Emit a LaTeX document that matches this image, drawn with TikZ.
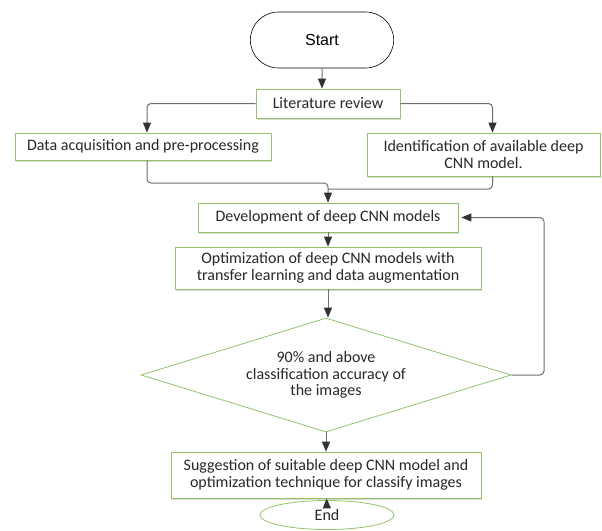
\documentclass[tikz,border=0pt]{standalone}
\usepackage{fontspec}
\setmainfont{Carlito}
\newfontfamily\startfont{Liberation Sans}
\usepackage{tikz}
\usetikzlibrary{arrows.meta, shapes.geometric, shapes.misc, shadows}

\definecolor{boxgreen}{RGB}{146,196,106}
\definecolor{linegray}{RGB}{110,110,110}
\definecolor{tipgray}{RGB}{50,50,50}
\definecolor{txtgray}{RGB}{40,40,40}

\begin{document}
\begin{tikzpicture}[x=1pt, y=-1pt,
  box/.style={rectangle, draw=boxgreen, line width=0.8pt, fill=white, inner sep=0pt, align=center, text=txtgray, font=\fontsize{16}{17}\selectfont, drop shadow={shadow xshift=1pt, shadow yshift=-1.5pt, opacity=0.3}},
  line/.style={draw=linegray, line width=1pt, rounded corners=4pt},
  arr/.style={line, -{Triangle[length=10pt, width=8pt, color=tipgray]}}]
\useasboundingbox (0,0) rectangle (602,530);
\node[rounded rectangle, draw=black, line width=0.6pt, minimum width=150pt, minimum height=56pt, font=\startfont\fontsize{16}{17}\selectfont] (1) at (322,40) {Start};
\node[box, minimum width=144pt, minimum height=29pt] (2) at (328,103.5) {Literature review};
\node[box, minimum width=256pt, minimum height=27pt] (3) at (143,146.5) {Data acquisition and pre-processing};
\node[box, minimum width=233pt, minimum height=43pt] (4) at (483.5,154.5) {Identification of available deep\\CNN model.};
\node[box, minimum width=260pt, minimum height=29pt] (5) at (328,217.5) {Development of deep CNN models};
\node[box, minimum width=306pt, minimum height=42pt] (6) at (328,268) {Optimization of deep CNN models with\\transfer learning and data augmentation};
\node[diamond, draw=boxgreen, line width=0.8pt, aspect=3.25, inner sep=0pt, minimum width=370pt, minimum height=114pt, align=center, text=txtgray, font=\fontsize{16}{16.5}\selectfont] (7) at (326,375) {90\% and above\\classification accuracy of\\the images};
\node[box, minimum width=310pt, minimum height=46pt] (8) at (326,475) {Suggestion of suitable deep CNN model and\\optimization technique for classify images};
\node[ellipse, draw=boxgreen, line width=0.8pt, minimum width=134pt, minimum height=29pt, text=txtgray, font=\fontsize{16}{17}\selectfont] (9) at (327,515) {End};
\coordinate (m1) at (328,183);
\coordinate (m2) at (328,189);
\coordinate (fb) at (544,375);
\draw[arr] (1) -- (1 |- 2.north);
\draw[arr] (2.west) -| ([xshift=4pt]3.north);
\draw[arr] (2.east) -| ([xshift=9pt]4.north);
\draw[arr] ([xshift=4pt]3.south) |- (m1) -- (5.north);
\draw[line] ([xshift=9pt]4.south) |- (m2);
\draw[arr] (5) -- (6);
\draw[arr] (6) -- (6 |- 7.north);
\draw[arr] (7) -- (8);
\draw[arr, shorten >=3pt] (7.east) -- (fb) |- (5.east);
\draw[arr] (9) -- (8);
\end{tikzpicture}
\end{document}
